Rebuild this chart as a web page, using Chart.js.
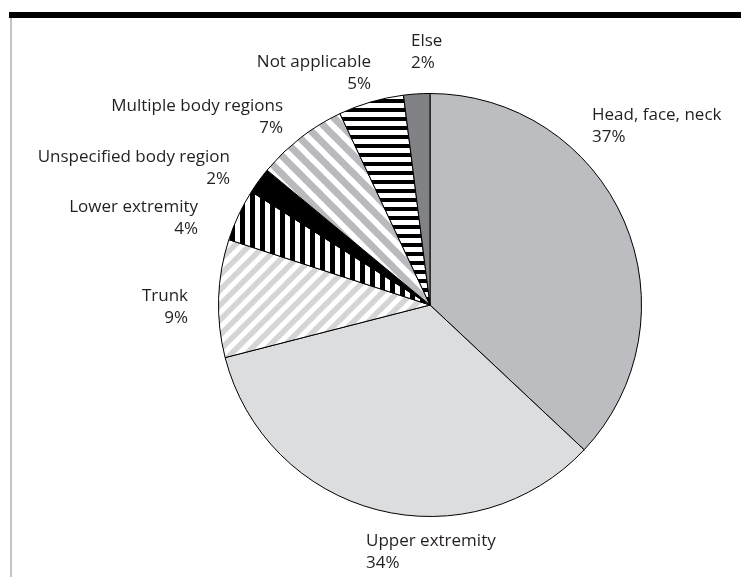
<!DOCTYPE html>
<html>
<head>
<meta charset="utf-8">
<script src="https://cdn.jsdelivr.net/npm/chart.js@4.4.1/dist/chart.umd.min.js"></script>
<style>
  html, body { margin: 0; padding: 0; background: #fff; }
  #wrap { position: relative; width: 741px; height: 577px; overflow: hidden; }
  #topbar { position: absolute; left: 9px; top: 12px; width: 732px; height: 6px; background: #000; }
  #leftline { position: absolute; left: 10px; top: 18px; width: 2px; height: 559px; background: #c4c4c4; }
  canvas { position: absolute; left: 0; top: 0; }
</style>
</head>
<body>
<div id="wrap">
  <canvas id="chart" width="741" height="577"></canvas>
  <div id="topbar"></div>
  <div id="leftline"></div>
</div>
<script>
const categories = ["Head, face, neck", "Upper extremity", "Trunk", "Lower extremity",
                    "Unspecified body region", "Multiple body regions", "Not applicable", "Else"]
const shares = [37, 34, 9, 4, 2, 7, 5, 2]

// where each two-line label sits (baseline of first line)
const labelLayout = [
    { x: 592, y: 120, align: "left" },
    { x: 366, y: 545.5, align: "left" },
    { x: 188, y: 300.5, align: "right" },
    { x: 198, y: 211.5, align: "right" },
    { x: 230, y: 161.5, align: "right" },
    { x: 283, y: 110.5, align: "right" },
    { x: 371, y: 66.5, align: "right" },
    { x: 411, y: 45.5, align: "left" }
]

function tile(size, draw) {
    const c = document.createElement("canvas")
    c.width = size
    c.height = size
    const g = c.getContext("2d")
    g.fillStyle = "#fff"
    g.fillRect(0, 0, size, size)
    draw(g, size)
    return document.getElementById("chart").getContext("2d").createPattern(c, "repeat")
}

function diagDown(color, size, width) {   // "\" stripes
    return tile(size, (g, s) => {
        g.strokeStyle = color
        g.lineWidth = width
        for (let k = -1; k <= 1; k++) {
            g.beginPath()
            g.moveTo(-2, -2 + k * s)
            g.lineTo(s + 2, s + 2 + k * s)
            g.stroke()
        }
    })
}

function diagUp(color, size, width) {     // "/" stripes
    return tile(size, (g, s) => {
        g.strokeStyle = color
        g.lineWidth = width
        for (let k = 0; k <= 2; k++) {
            g.beginPath()
            g.moveTo(-2, k * s + 2)
            g.lineTo(s + 2, k * s - s - 2)
            g.stroke()
        }
    })
}

function vertical(period, width) {
    return tile(period, (g, s) => {
        g.fillStyle = "#000"
        g.fillRect(0, 0, width, s)
    })
}

function horizontal(period, width) {
    return tile(period, (g, s) => {
        g.fillStyle = "#000"
        g.fillRect(0, 0, s, width)
    })
}

const fills = [
    "#bcbdc0",
    "#dcdddf",
    diagUp("#d4d5d7", 15, 5.5),
    vertical(10, 5),
    "#000000",
    diagDown("#b9babd", 18, 7),
    horizontal(9, 4),
    "#808285"
]

const outsideLabels = {
    id: "outsideLabels",
    afterDraw(chart) {
        const ctx = chart.ctx
        ctx.save()
        ctx.font = "17px 'Open Sans'"
        ctx.fillStyle = "#231f20"
        ctx.textBaseline = "alphabetic"
        categories.forEach((name, i) => {
            const pos = labelLayout[i]
            ctx.textAlign = pos.align
            ctx.fillText(name, pos.x, pos.y)
            ctx.fillText(shares[i] + "%", pos.x, pos.y + 22)
        })
        ctx.restore()
    }
}

new Chart(document.getElementById("chart"), {
    type: "pie",
    data: {
        labels: categories,
        datasets: [{
            data: shares,
            backgroundColor: fills,
            borderColor: "#000",
            borderWidth: 1
        }]
    },
    options: {
        responsive: false,
        animation: false,
        layout: { padding: { left: 218, right: 99, top: 93, bottom: 60 } },
        plugins: {
            legend: { display: false },
            tooltip: { enabled: false }
        }
    },
    plugins: [outsideLabels]
})
</script>
</body>
</html>
